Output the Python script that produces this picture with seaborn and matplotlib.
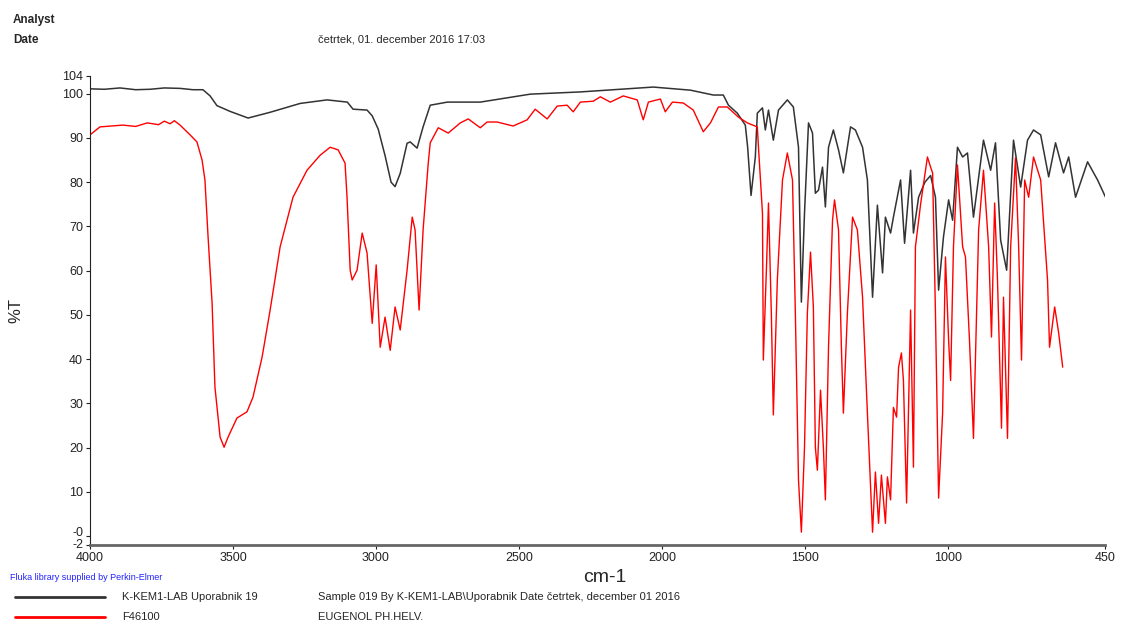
import matplotlib
matplotlib.use("Agg")
import matplotlib.pyplot as plt
import matplotlib.transforms as mtransforms
import seaborn as sns
import pandas as pd
from matplotlib.lines import Line2D

# sample spectrum (black)
sample_wn = [4000, 3950, 3895, 3840, 3790, 3740, 3685, 3640, 3605, 3580, 3556, 3510, 3447, 3370, 3265, 3171,
             3100, 3080, 3031, 3013, 2992, 2968, 2947, 2933, 2915, 2891, 2880, 2856,
             2835, 2810, 2750, 2635, 2460, 2285, 2030, 1900, 1820, 1785, 1767, 1736,
             1708, 1700, 1688, 1673, 1666, 1648, 1638, 1627, 1610, 1592, 1561, 1540,
             1522, 1512, 1501, 1487, 1473, 1463, 1452, 1438, 1428, 1417, 1400, 1382,
             1365, 1340, 1323, 1298, 1281, 1263, 1246, 1228, 1218, 1200, 1190, 1165,
             1151, 1130, 1120, 1102, 1080, 1060, 1043, 1032, 1015, 997, 983, 966,
             948, 931, 910, 875, 850, 833, 815, 794, 770, 745, 721, 700, 675, 647,
             623, 595, 577, 553, 511, 476, 448]
sample_t = [101.1, 101.0, 101.3, 100.9, 101.0, 101.3, 101.2, 100.9, 100.9, 99.5, 97.3, 96.0, 94.5, 95.8, 97.8, 98.6,
            98.1, 96.5, 96.3, 95.0, 92.0, 86.0, 80.0, 79.0, 82.0, 88.8, 89.1, 87.7,
            92.5, 97.4, 98.1, 98.1, 99.9, 100.4, 101.5, 100.8, 99.7, 99.7, 97.4, 95.6,
            92.9, 88.0, 77.0, 85.7, 95.6, 96.8, 91.8, 96.3, 89.5, 96.3, 98.6, 97.0,
            87.9, 52.9, 73.0, 93.4, 91.1, 77.5, 78.2, 83.4, 74.4, 87.9, 91.8, 87.3,
            82.1, 92.5, 91.8, 87.9, 80.5, 54.0, 74.8, 59.5, 72.1, 68.5, 72.1, 80.5,
            66.2, 82.7, 68.5, 76.6, 80.0, 81.5, 76.6, 55.6, 67.6, 76.0, 71.4, 87.9,
            85.7, 86.6, 72.1, 89.5, 82.7, 88.9, 66.9, 60.1, 89.5, 78.9, 89.5, 91.8, 90.7, 81.2,
            88.9, 82.1, 85.7, 76.6, 84.6, 80.5, 76.6]

# library spectrum EUGENOL (red)
ref_wn = [4000, 3965, 3885, 3840, 3800, 3760, 3740, 3720, 3705, 3685, 3650, 3626, 3608, 3598, 3587, 3573,
          3563, 3545, 3531, 3517, 3486, 3451, 3430, 3398, 3370, 3335, 3290, 3241,
          3195, 3160, 3132, 3108, 3101, 3090, 3083, 3066, 3048, 3031, 3013, 2999,
          2985, 2968, 2950, 2933, 2915, 2891, 2873, 2863, 2849, 2835, 2817, 2810,
          2782, 2747, 2705, 2677, 2635, 2611, 2576, 2520, 2471, 2443, 2401, 2366,
          2331, 2310, 2285, 2240, 2215, 2180, 2135, 2086, 2065, 2047, 2005, 1988,
          1963, 1925, 1890, 1855, 1830, 1802, 1771, 1732, 1701, 1666, 1662, 1648,
          1645, 1634, 1627, 1617, 1610, 1596, 1578, 1561, 1543, 1533, 1522, 1512,
          1501, 1491, 1480, 1470, 1463, 1456, 1445, 1435, 1428, 1417, 1403, 1396,
          1382, 1372, 1365, 1351, 1333, 1316, 1298, 1281, 1263, 1253, 1242, 1232,
          1218, 1211, 1200, 1190, 1179, 1172, 1162, 1155, 1144, 1130, 1120, 1113,
          1095, 1071, 1060, 1053, 1043, 1032, 1018, 1008, 997, 990, 980, 966,
          948, 938, 924, 910, 892, 875, 857, 847, 836, 826, 812, 805, 791, 780,
          763, 752, 742, 731, 717, 700, 675, 651, 644, 626, 612, 598]
ref_t = [90.7, 92.5, 92.9, 92.6, 93.4, 93.0, 93.8, 93.2, 93.9, 92.9, 90.7, 89.1, 85.0, 80.5, 67.6, 52.7,
         33.7, 22.4, 20.1, 22.4, 26.7, 28.1, 31.4, 40.5, 51.1, 65.4, 76.6, 82.7,
         86.1, 87.9, 87.3, 84.3, 76.6, 60.1, 57.9, 60.1, 68.5, 64.0, 48.1, 61.3,
         42.7, 49.5, 42.0, 51.8, 46.6, 60.1, 72.1, 69.2, 51.1, 69.2, 84.3, 88.9,
         92.3, 91.1, 93.4, 94.3, 92.3, 93.6, 93.6, 92.7, 94.1, 96.5, 94.3, 97.2,
         97.4, 95.9, 98.1, 98.3, 99.3, 98.1, 99.5, 98.6, 94.1, 98.1, 98.8, 95.9,
         98.1, 97.9, 96.3, 91.4, 93.4, 97.0, 97.0, 94.7, 93.4, 92.5, 87.9, 73.0,
         39.8, 60.8, 75.3, 50.4, 27.4, 57.9, 80.5, 86.6, 80.5, 50.4, 12.7, 0.9,
         20.1, 50.4, 64.2, 51.8, 20.1, 14.9, 33.0, 20.1, 8.2, 42.7, 71.4, 76.0,
         69.2, 42.7, 27.8, 50.4, 72.1, 69.2, 54.0, 27.8, 0.9, 14.5, 2.9, 13.8,
         2.9, 13.4, 8.2, 29.1, 26.9, 38.2, 41.4, 35.2, 7.5, 51.1, 15.6, 65.4,
         75.0, 85.7, 83.4, 82.1, 50.4, 8.6, 27.8, 63.1, 44.3, 35.2, 65.4, 83.9,
         65.4, 63.1, 44.3, 22.1, 69.2, 82.7, 65.4, 45.0, 75.3, 57.9, 24.4, 54.0, 22.1, 65.4,
         85.5, 65.4, 39.8, 80.5, 76.6, 85.7, 80.5, 57.9, 42.7, 51.8, 45.9, 38.2]

y_ticks = [104, 100, 90, 80, 70, 60, 50, 40, 30, 20, 10, 0, -2]
y_labels = ["104", "100", "90", "80", "70", "60", "50", "40", "30", "20", "10", "-0", "-2"]
x_ticks = [4000, 3500, 3000, 2500, 2000, 1500, 1000, 450]

sample = pd.DataFrame({"wn": sample_wn, "T": sample_t})
ref = pd.DataFrame({"wn": ref_wn, "T": ref_t})

sns.set_style("ticks")
plt.rcParams["font.family"] = ["Liberation Sans", "DejaVu Sans"]

W, H = 1121, 625
fig = plt.figure(figsize=(W / 100, H / 100), dpi=100)
ax = fig.add_axes([90 / W, 1 - 545 / H, (1105 - 90) / W, (545 - 76) / H])

sns.lineplot(data=sample, x="wn", y="T", ax=ax, color="#333333", lw=1.1, sort=False, estimator=None)
sns.lineplot(data=ref, x="wn", y="T", ax=ax, color="#ff0000", lw=1.0, sort=False, estimator=None)

ax.set_xlim(4000, 450)
ax.set_ylim(-2, 104)
ax.set_xticks(x_ticks)
ax.set_xticklabels([str(v) for v in x_ticks], fontsize=9)
ax.set_yticks(y_ticks)
ax.set_yticklabels(y_labels, fontsize=9)
ax.tick_params(axis="both", length=3, width=0.8, pad=2, colors="#222222")
ax.set_xlabel("")
ax.set_ylabel("%T", fontsize=12)
ax.yaxis.set_label_coords(-0.066, 0.5)
sns.despine(ax=ax)
ax.spines["left"].set_color("#222222")
ax.spines["left"].set_linewidth(0.8)
ax.spines["bottom"].set_color("#666666")
ax.spines["bottom"].set_linewidth(2.0)

# nudge the two lowest tick labels apart
for lbl in ax.get_yticklabels():
    if lbl.get_text() == "-0":
        lbl.set_transform(lbl.get_transform() + mtransforms.ScaledTranslation(0, 5 / 100, fig.dpi_scale_trans))
    elif lbl.get_text() == "-2":
        lbl.set_transform(lbl.get_transform() + mtransforms.ScaledTranslation(0, 1 / 100, fig.dpi_scale_trans))

def ftext(x, y, s, **kw):
    fig.text(x / W, 1 - y / H, s, va="center", **kw)

ftext(13, 20, "Analyst", fontsize=8.5, fontweight="bold")
ftext(13, 40, "Date", fontsize=8.5, fontweight="bold")
ftext(318, 40, "četrtek, 01. december 2016 17:03", fontsize=8)
ftext(605, 578, "cm-1", fontsize=14, ha="center")
ftext(10, 578, "Fluka library supplied by Perkin-Elmer", fontsize=6.5, color="#2222ff")

ftext(122, 597, "K-KEM1-LAB Uporabnik 19", fontsize=8)
ftext(318, 597, "Sample 019 By K-KEM1-LAB\\Uporabnik Date četrtek, december 01 2016", fontsize=8)
ftext(122, 617, "F46100", fontsize=8)
ftext(318, 617, "EUGENOL PH.HELV.", fontsize=8)
fig.add_artist(Line2D([15 / W, 105 / W], [1 - 597 / H, 1 - 597 / H], color="#333333", lw=2))
fig.add_artist(Line2D([15 / W, 105 / W], [1 - 617 / H, 1 - 617 / H], color="#ff0000", lw=2))

fig.savefig("out.png", dpi=100)
